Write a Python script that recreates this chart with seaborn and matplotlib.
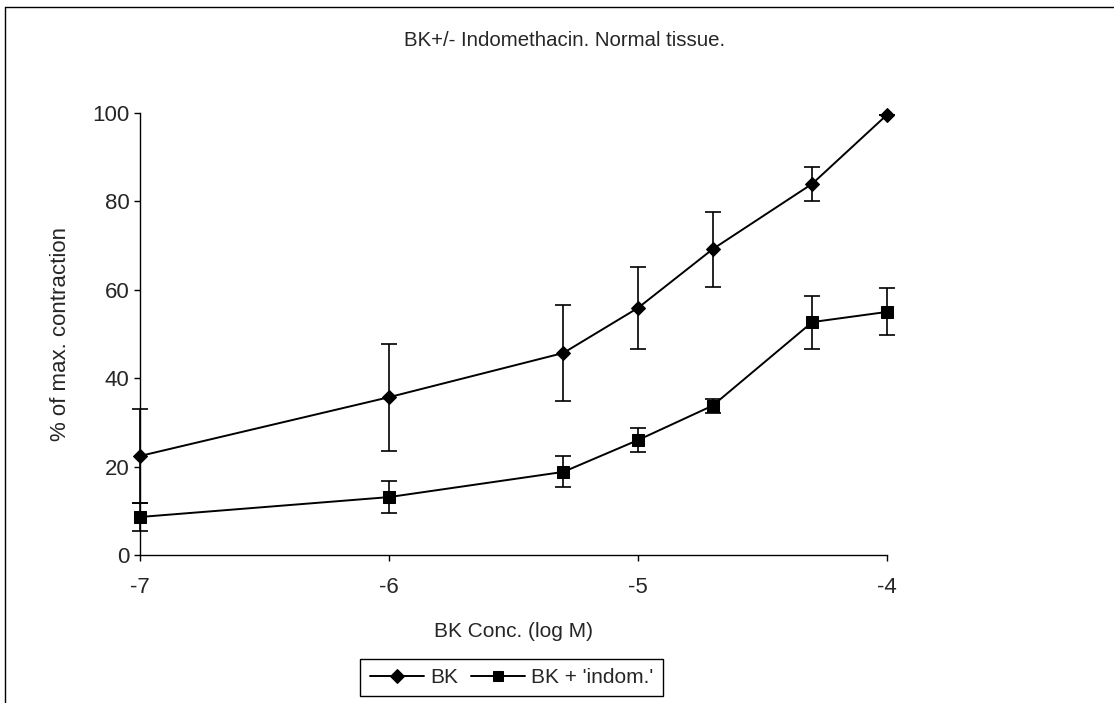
import matplotlib
matplotlib.use("Agg")
import matplotlib.pyplot as plt
from matplotlib.lines import Line2D
import seaborn as sns
import pandas as pd

# ---- data ----
log_conc = [-7, -6, -5.3, -5, -4.7, -4.3, -4]
bk_mean = [22.4, 35.7, 45.7, 55.9, 69.2, 84.0, 99.6]
bk_err = [10.7, 12.1, 10.8, 9.3, 8.5, 3.8, 0.0]
indom_mean = [8.6, 13.1, 18.8, 26.0, 33.8, 52.7, 55.0]
indom_err = [3.2, 3.7, 3.5, 2.7, 1.6, 6.0, 5.3]
series_names = ["BK", "BK + 'indom.'"]

title = "BK+/- Indomethacin. Normal tissue."
xlabel = "BK Conc. (log M)"
ylabel = "% of max. contraction"
xticks = [-7, -6, -5, -4]
yticks = [0, 20, 40, 60, 80, 100]

df = pd.DataFrame({
    "x": log_conc + log_conc,
    "y": bk_mean + indom_mean,
    "err": bk_err + indom_err,
    "series": [series_names[0]] * len(log_conc) + [series_names[1]] * len(log_conc),
})

sns.set_style("ticks")
plt.rcParams["font.family"] = ["Liberation Sans", "DejaVu Sans"]

W, H = 1114, 703
fig = plt.figure(figsize=(W / 100, H / 100), dpi=100)
ax = fig.add_axes([140 / W, 1 - 555 / H, (887 - 140) / W, (555 - 113) / H])

sns.lineplot(data=df, x="x", y="y", style="series", markers={series_names[0]: "D", series_names[1]: "s"},
             dashes=False, color="black", linewidth=1.4, markersize=9, markeredgecolor="black",
             ax=ax, legend=True, clip_on=False, zorder=3)
# slightly smaller diamonds, as in the reference
ax.lines[0].set_markersize(7.5)

for name in series_names:
    sub = df[df["series"] == name]
    ax.errorbar(sub["x"], sub["y"], yerr=sub["err"], fmt="none", ecolor="black",
                elinewidth=1.2, capsize=6, capthick=1.2, clip_on=False, zorder=2)

ax.set_xlim(-7, -4)
ax.set_ylim(0, 100)
ax.set_xticks(xticks)
ax.set_xticklabels([str(t) for t in xticks])
ax.set_yticks(yticks)
ax.tick_params(axis="both", labelsize=16, length=4.5, width=1, color="black", direction="out")
ax.tick_params(axis="x", pad=11)
ax.tick_params(axis="y", pad=3)
for s in ["top", "right"]:
    ax.spines[s].set_visible(False)
for s in ["left", "bottom"]:
    ax.spines[s].set_color("black")
    ax.spines[s].set_linewidth(1)

ax.set_xlabel(xlabel, fontsize=15)
ax.set_ylabel(ylabel, fontsize=16)
ax.xaxis.set_label_coords(0.5, (555 - 622) / 442)
ax.yaxis.set_label_coords((71 - 140) / 747, 0.5)

fig.text(565 / W, 1 - 41 / H, title, fontsize=14.7, ha="center", va="center")

handles, labels = ax.get_legend_handles_labels()
ax.get_legend().remove()
leg = fig.legend(handles, labels, loc="center", bbox_to_anchor=(511.5 / W, 1 - 677.5 / H), ncol=2,
                 fontsize=15, frameon=True, fancybox=False, edgecolor="black", framealpha=1,
                 handlelength=2.6, handletextpad=0.3, columnspacing=0.6, borderpad=0.45,
                 markerscale=0.75)
leg.get_frame().set_linewidth(1)

# figure frame (top and left edges as in the scan)
fig.add_artist(Line2D([5 / W, 5 / W], [0, 1 - 7 / H], color="black", linewidth=1))
fig.add_artist(Line2D([5 / W, 1], [1 - 7 / H, 1 - 7 / H], color="black", linewidth=1))

fig.savefig("out.png", dpi=100)
